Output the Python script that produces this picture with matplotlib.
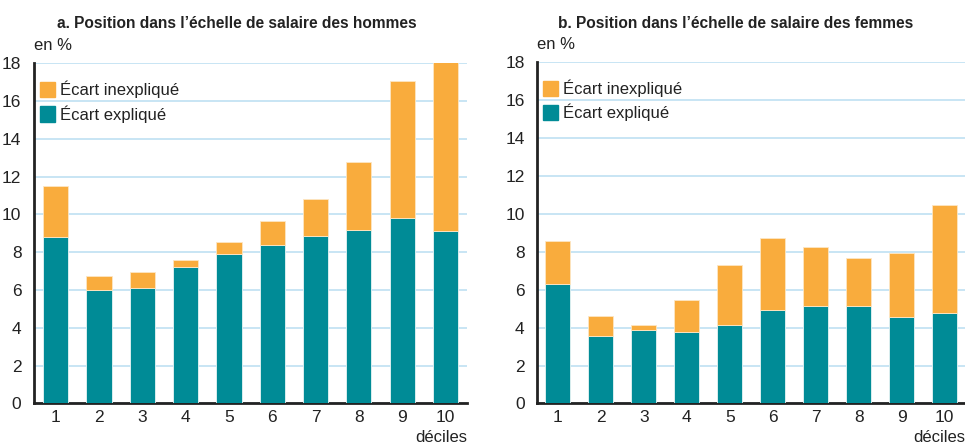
import matplotlib.pyplot as plt
from matplotlib.patches import Patch

plt.rcParams['font.family'] = ['Liberation Sans', 'DejaVu Sans']

deciles = [1, 2, 3, 4, 5, 6, 7, 8, 9, 10]
# hommes
h_explique = [8.81, 6.02, 6.09, 7.22, 7.93, 8.41, 8.88, 9.17, 9.81, 9.12]
h_total = [11.5, 6.76, 6.97, 7.58, 8.55, 9.66, 10.81, 12.78, 17.06, 18.2]
# femmes
f_explique = [6.31, 3.58, 3.85, 3.79, 4.11, 4.95, 5.16, 5.12, 4.56, 4.77]
f_total = [8.55, 4.62, 4.11, 5.45, 7.31, 8.74, 8.22, 7.64, 7.95, 10.44]

titles = ["a. Position dans l\u2019échelle de salaire des hommes",
          "b. Position dans l\u2019échelle de salaire des femmes"]

c_expl = '#008b96'
c_inex = '#f9ac3d'
c_grid = '#bfe0f2'
c_txt = '#222222'

fig = plt.figure(figsize=(9.65, 4.46), dpi=100)
ax1 = fig.add_axes([0.0352, 0.0953, 0.449, 0.763])
ax2 = fig.add_axes([0.5565, 0.0953, 0.4435, 0.766])

panels = [(ax1, h_explique, h_total, (0.5, 10.5), 0.2456),
          (ax2, f_explique, f_total, (0.52, 10.47), 0.762)]

for i, (ax, expl, tot, xl, tx) in enumerate(panels):
    inex = [t - e for t, e in zip(tot, expl)]
    ax.bar(deciles, expl, width=0.58, color=c_expl, edgecolor='#e8f4f4',
           linewidth=0.6, zorder=3)
    ax.bar(deciles, inex, bottom=expl, width=0.58, color=c_inex,
           edgecolor='#fde6c4', linewidth=0.6, zorder=3)
    ax.set_xlim(*xl)
    ax.set_ylim(0, 18)
    ax.set_yticks(range(0, 19, 2))
    ax.set_xticks(deciles)
    ax.yaxis.grid(True, color=c_grid, linewidth=1.2, zorder=0)
    ax.set_axisbelow(True)
    for s in ['top', 'right']:
        ax.spines[s].set_visible(False)
    for s in ['left', 'bottom']:
        ax.spines[s].set_color(c_txt)
        ax.spines[s].set_linewidth(2)
    ax.tick_params(length=0, labelsize=12.5, colors=c_txt, pad=9)
    ax.tick_params(axis='x', pad=5)
    ax.text(0.0, 1.051, 'en %', transform=ax.transAxes, fontsize=12,
            color=c_txt, ha='left', va='center')
    ax.text(1.0, -0.1, 'déciles', transform=ax.transAxes, fontsize=12,
            color=c_txt, ha='right', va='center')
    fig.text(tx, 0.948, titles[i], fontsize=11.2, fontweight='bold',
             color=c_txt, ha='center', va='center')
    handles = [Patch(color=c_inex, label='Écart inexpliqué'),
               Patch(color=c_expl, label='Écart expliqué')]
    ax.legend(handles=handles, loc='upper left', bbox_to_anchor=(0.015, 0.948),
              borderaxespad=0, borderpad=0,
              frameon=False, fontsize=12, handlelength=0.9, handleheight=1.05,
              handletextpad=0.3, labelspacing=0.4, labelcolor=c_txt)

fig.savefig('out.png', dpi=100)
